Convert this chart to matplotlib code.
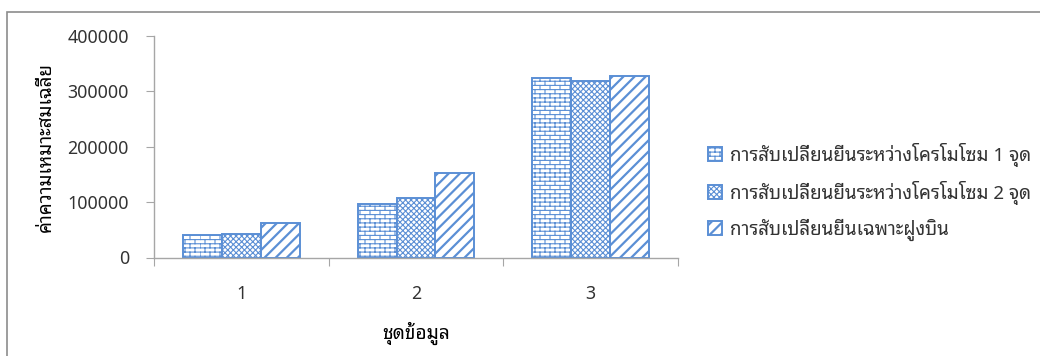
import numpy as np
import matplotlib
matplotlib.use("Agg")
import matplotlib.pyplot as plt
from matplotlib import hatch as mhatch
from matplotlib.path import Path
from matplotlib.patches import Rectangle


# brick hatch: replaces the vertical part of '+' so that '+' draws courses of bricks
class BrickHatch(mhatch.HatchPatternBase):
    def __init__(self, hatch, density):
        self.rows = int((hatch.count('+') + hatch.count('-')) * density)
        self.bricks = max(1, int(round(self.rows / 2.4)))
        n = hatch.count('+') + hatch.count('|')
        self.num_vertices = (self.rows + 1) * self.bricks * 2 if n else 0

    def set_vertices_and_codes(self, vertices, codes):
        r, b = self.rows, self.bricks
        i = 0
        for k in range(-1, r):
            y0 = max((k + 0.5) / r, 0.0)
            y1 = min((k + 1.5) / r, 1.0)
            for m in range(b):
                x = (m + 0.5 * (k % 2)) / b
                vertices[i] = (x, y0)
                vertices[i + 1] = (x, y1)
                codes[i] = Path.MOVETO
                codes[i + 1] = Path.LINETO
                i += 2


mhatch._hatch_types[1] = BrickHatch

groups = ['1', '2', '3']
series = ['การสับเปลี่ยนยีนระหว่างโครโมโซม 1 จุด',
          'การสับเปลี่ยนยีนระหว่างโครโมโซม 2 จุด',
          'การสับเปลี่ยนยีนเฉพาะฝูงบิน']
one_point = [40000, 96400, 325000]
two_point = [41800, 106700, 318600]
flock_only = [62000, 152000, 327000]
yticks = [0, 100000, 200000, 300000, 400000]

fonts = ['Noto Sans Thai Looped', 'Noto Sans', 'DejaVu Sans']
plt.rcParams['font.family'] = fonts
plt.rcParams['hatch.linewidth'] = 0.8

blue = '#5b8fd5'
txt = '#333333'
axc = '#a6a6a6'

fig = plt.figure(figsize=(10.4, 3.56), dpi=100)
ax = fig.add_axes([154 / 1040, 1 - 257.5 / 356, 524 / 1040, 221.5 / 356])

x = np.arange(1, len(groups) + 1)
w = 0.223
hatches = ['++++', 'xxxxxx', '///']
hatch_lw = [0.8, 0.8, 1.6]
for j, (vals, h) in enumerate(zip([one_point, two_point, flock_only], hatches)):
    bars = ax.bar(x + (j - 1) * w, vals, w, facecolor='white', edgecolor=blue,
                  linewidth=1.4, hatch=h, label=series[j], zorder=2)
    for b in bars:
        if hasattr(b, 'set_hatch_linewidth'):
            b.set_hatch_linewidth(hatch_lw[j])

ax.set_xlim(0.5, len(groups) + 0.5)
ax.set_ylim(0, 400000)
ax.set_yticks(yticks)
ax.set_yticklabels([str(v) for v in yticks])
ax.set_xticks(np.arange(0.5, len(groups) + 1, 1.0))
ax.set_xticklabels([])
ax.set_xticks(x, minor=True)
ax.set_xticklabels(groups, minor=True)

for s in ['top', 'right']:
    ax.spines[s].set_visible(False)
for s in ['left', 'bottom']:
    ax.spines[s].set_color(axc)
    ax.spines[s].set_linewidth(1.0)
ax.tick_params(axis='y', which='major', length=6, color=axc, pad=12,
               labelsize=12.8, labelcolor=txt)
ax.tick_params(axis='x', which='major', length=6, color=axc)
ax.tick_params(axis='x', which='minor', length=0, pad=20,
               labelsize=12.8, labelcolor=txt)

ax.set_xlabel('ชุดข้อมูล', fontsize=13.8, fontweight='bold', labelpad=13)
ax.set_ylabel('ค่าความเหมาะสมเฉลี่ย', fontsize=13.5, fontweight='bold', labelpad=9)

leg = fig.legend(loc='center left', bbox_to_anchor=(708 / 1040, 1 - 191.7 / 356),
                 frameon=False, fontsize=13.5, handlelength=0.75, handleheight=0.75,
                 handletextpad=0.4, labelspacing=0.75, borderpad=0, borderaxespad=0,
                 labelcolor=txt)
for p, lw in zip(leg.get_patches(), hatch_lw):
    if hasattr(p, 'set_hatch_linewidth'):
        p.set_hatch_linewidth(lw)

# outer chart border
fig.patches.append(Rectangle((7 / 1040, -0.1), 1.1, 1.1 - 12 / 356,
                             transform=fig.transFigure, fill=False,
                             edgecolor='#8c8c8c', linewidth=1.2))

fig.savefig('out.png', dpi=100)
